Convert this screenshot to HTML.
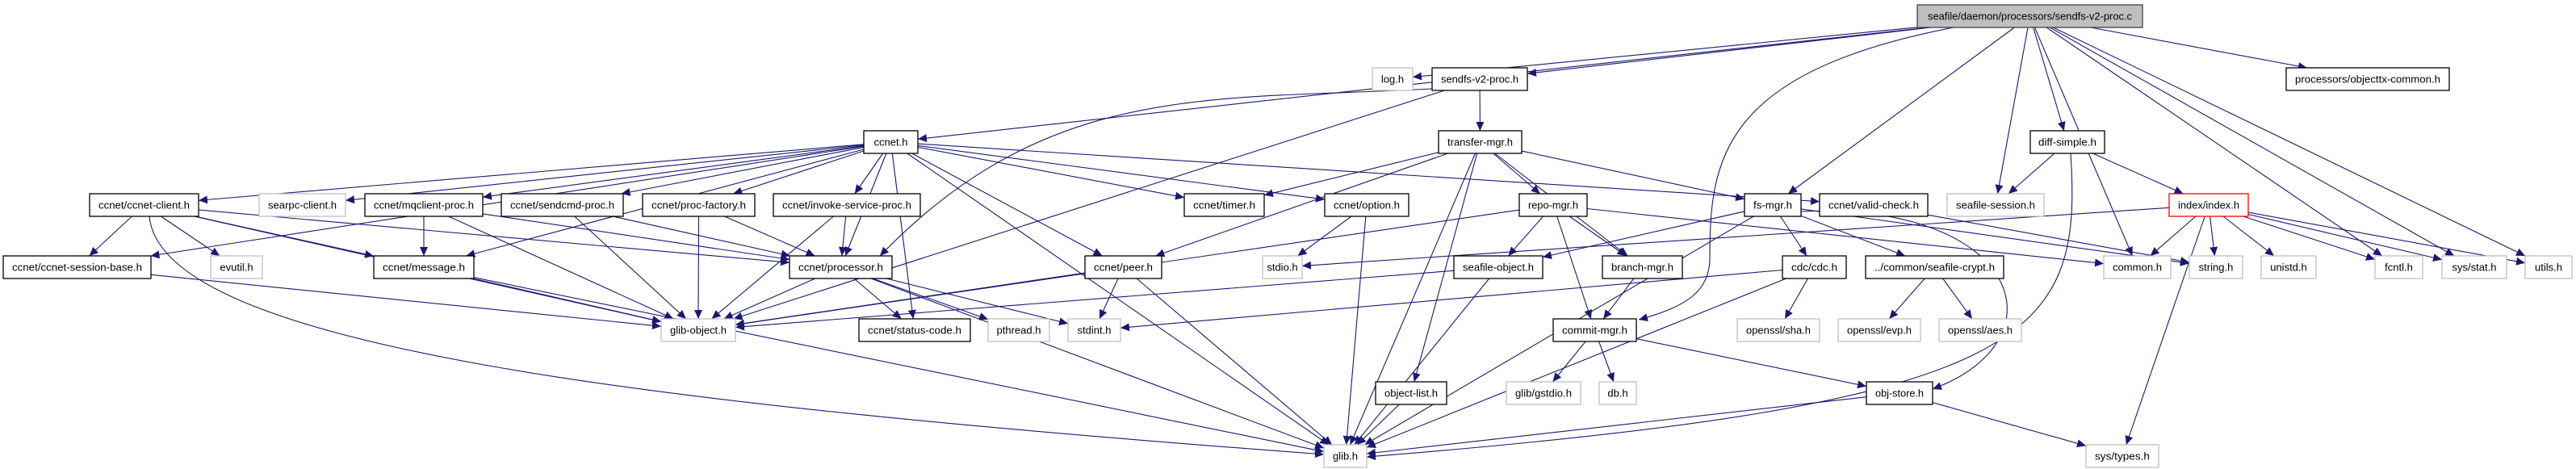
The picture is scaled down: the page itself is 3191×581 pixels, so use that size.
<!DOCTYPE html>
<html><head><meta charset="utf-8">
<style>
html,body{margin:0;padding:0;background:#fff;}
svg{display:block;}
text{font-family:"Liberation Sans",Arial,sans-serif;font-size:13px;fill:#000;}
</style></head>
<body>
<svg id="g" xmlns="http://www.w3.org/2000/svg" width="3191" height="581" viewBox="0 0 3191 581">
<defs>
<marker id="a" markerUnits="userSpaceOnUse" markerWidth="12" markerHeight="10" refX="11" refY="5" orient="auto">
<path d="M0,0 L11,5 L0,10 z" fill="#191970"/>
</marker>
</defs>
<g id="edges" fill="none" stroke="#191970" stroke-width="1.1"></g>
<g id="nodes">
<rect x="2375" y="6" width="279" height="28" fill="#bfbfbf" stroke="#404040" stroke-width="1.3"/><text x="2514.5" y="24.5" text-anchor="middle" textLength="253" lengthAdjust="spacingAndGlyphs">seafile/daemon/processors/sendfs-v2-proc.c</text>
<rect x="1700" y="84" width="50" height="28" fill="#fff" stroke="#bfbfbf" stroke-width="1.3"/><text x="1725" y="102.5" text-anchor="middle">log.h</text>
<rect x="1774" y="84" width="118" height="28" fill="#fff" stroke="#000" stroke-width="1.3"/><text x="1833" y="102.5" text-anchor="middle" textLength="96" lengthAdjust="spacingAndGlyphs">sendfs-v2-proc.h</text>
<rect x="2832" y="84" width="202" height="28" fill="#fff" stroke="#000" stroke-width="1.3"/><text x="2933" y="102.5" text-anchor="middle" textLength="180" lengthAdjust="spacingAndGlyphs">processors/objecttx-common.h</text>
<rect x="1070" y="162" width="67" height="28" fill="#fff" stroke="#000" stroke-width="1.3"/><text x="1103.5" y="180.5" text-anchor="middle">ccnet.h</text>
<rect x="1782" y="162" width="103" height="28" fill="#fff" stroke="#000" stroke-width="1.3"/><text x="1833.5" y="180.5" text-anchor="middle" textLength="81" lengthAdjust="spacingAndGlyphs">transfer-mgr.h</text>
<rect x="2515" y="162" width="92" height="28" fill="#fff" stroke="#000" stroke-width="1.3"/><text x="2561" y="180.5" text-anchor="middle" textLength="72" lengthAdjust="spacingAndGlyphs">diff-simple.h</text>
</g>
</svg>
<script>
var N={
T:[2375,1,279],log:[1700,2,50],sv2:[1774,2,118],objtx:[2832,2,202],
ccnet:[1070,3,67],tm:[1782,3,103],diff:[2515,3,92],
client:[111,4,135],searpc:[321,4,107],mq:[452,4,146],sendcmd:[621,4,151],pf:[796,4,139],inv:[958,4,182],timer:[1467,4,99],option:[1641,4,104],repo:[1882,4,84],fs:[2161,4,70],valid:[2254,4,134],session:[2412,4,120],index:[2687,4,98],
sb:[4,5,183],evutil:[261,5,64],msg:[463,5,124],proc:[978,5,127],peer:[1344,5,95],stdio:[1564,5,49],sobj:[1801,5,110],branch:[1985,5,99],cdc:[2208,5,79],crypt:[2311,5,171],common:[2606,5,83],string:[2712,5,66],unistd:[2801,5,68],fcntl:[2942,5,59],stat:[3025,5,80],utils:[3128,5,58],
gobj:[819,6,92],status:[1064,6,138],pthread:[1224,6,76],stdint:[1323,6,65],commit:[1924,6,103],sha:[2152,6,102],evp:[2277,6,102],aes:[2402,6,102],
olist:[1704,7,88],gstdio:[1866,7,92],db:[1981,7,46],ostore:[2312,7,82],
glib:[1640,8,53],types:[2584,8,90]};
var ROWY=[0,6,84,162,240,317,395,473,551];
function box(k){var n=N[k];return {x:n[0],y:ROWY[n[1]],w:n[2],h:28,cx:n[0]+n[2]/2,cy:ROWY[n[1]]+14};}
var E="T>ccnet T>log T>sv2 T>objtx T>fs T>session T>diff T>common T>fcntl T>stat T>utils "+
"sv2>tm sv2>gobj "+
"ccnet>client ccnet>searpc ccnet>mq ccnet>sendcmd ccnet>pf ccnet>inv ccnet>timer ccnet>proc ccnet>peer ccnet>status ccnet>glib ccnet>option ccnet>sb ccnet>msg ccnet>valid "+
"tm>timer tm>peer tm>repo tm>fs tm>branch tm>glib tm>olist "+
"repo>sobj repo>branch repo>commit repo>gobj repo>common "+
"fs>sobj fs>cdc fs>crypt fs>glib fs>string "+
"diff>session diff>index "+
"index>common index>string index>unistd index>fcntl index>stat index>utils index>types index>stdio "+
"ostore>glib ostore>types commit>gstdio commit>db commit>ostore "+
"cdc>stdint cdc>sha cdc>glib crypt>evp crypt>aes sobj>gobj sobj>glib branch>commit olist>glib "+
"option>stdio option>glib peer>gobj peer>stdint peer>glib "+
"proc>gobj proc>status proc>pthread proc>stdint proc>glib "+
"inv>proc inv>gobj pf>proc pf>gobj sendcmd>proc sendcmd>gobj mq>msg mq>proc mq>gobj "+
"client>sb client>evutil client>msg client>proc client>gobj sb>gobj msg>gobj msg>glib valid>string";
var svgns="http://www.w3.org/2000/svg";
var eg=document.getElementById("edges");
function clip(b,dx,dy){
  var hw=b.w/2,hh=b.h/2;var t=Infinity;
  if(dx!==0)t=Math.min(t,hw/Math.abs(dx));
  if(dy!==0)t=Math.min(t,hh/Math.abs(dy));
  return [b.cx+dx*t,b.cy+dy*t];
}
function add(d){var path=document.createElementNS(svgns,"path");path.setAttribute("d",d);path.setAttribute("marker-end","url(#a)");eg.appendChild(path);}
E.split(" ").forEach(function(e){
  if(!e)return;var p=e.split(">");var s=box(p[0]),t=box(p[1]);
  var dx=t.cx-s.cx,dy=t.cy-s.cy;
  var a=clip(s,dx,dy),b=clip(t,-dx,-dy);
  add("M"+a[0].toFixed(1)+","+a[1].toFixed(1)+" L"+b[0].toFixed(1)+","+b[1].toFixed(1));
});
// curved special edges
add("M185,268 C200,430 800,500 1640,563");
add("M2420,34 C2130,90 2118,200 2118,320 C2118,360 2090,380 2030,396");
add("M1774,110 C1500,125 1300,100 1090,317");
add("M2565,190 C2580,420 2520,500 1693,566");
add("M2231,262 C2500,250 2560,420 2394,482");
</script>
<svg xmlns="http://www.w3.org/2000/svg" width="3191" height="581" viewBox="0 0 3191 581" style="position:absolute;left:0;top:0">
<g>
<rect x="111" y="240" width="135" height="28" fill="#fff" stroke="#000" stroke-width="1.3"/><text x="178.5" y="258.5" text-anchor="middle" textLength="113" lengthAdjust="spacingAndGlyphs">ccnet/ccnet-client.h</text>
<rect x="321" y="240" width="107" height="28" fill="#fff" stroke="#bfbfbf" stroke-width="1.3"/><text x="374.5" y="258.5" text-anchor="middle" textLength="85" lengthAdjust="spacingAndGlyphs">searpc-client.h</text>
<rect x="452" y="240" width="146" height="28" fill="#fff" stroke="#000" stroke-width="1.3"/><text x="525" y="258.5" text-anchor="middle" textLength="124" lengthAdjust="spacingAndGlyphs">ccnet/mqclient-proc.h</text>
<rect x="621" y="240" width="151" height="28" fill="#fff" stroke="#000" stroke-width="1.3"/><text x="696.5" y="258.5" text-anchor="middle" textLength="129" lengthAdjust="spacingAndGlyphs">ccnet/sendcmd-proc.h</text>
<rect x="796" y="240" width="139" height="28" fill="#fff" stroke="#000" stroke-width="1.3"/><text x="865.5" y="258.5" text-anchor="middle" textLength="117" lengthAdjust="spacingAndGlyphs">ccnet/proc-factory.h</text>
<rect x="958" y="240" width="182" height="28" fill="#fff" stroke="#000" stroke-width="1.3"/><text x="1049" y="258.5" text-anchor="middle" textLength="160" lengthAdjust="spacingAndGlyphs">ccnet/invoke-service-proc.h</text>
<rect x="1467" y="240" width="99" height="28" fill="#fff" stroke="#000" stroke-width="1.3"/><text x="1516.5" y="258.5" text-anchor="middle" textLength="77" lengthAdjust="spacingAndGlyphs">ccnet/timer.h</text>
<rect x="1641" y="240" width="104" height="28" fill="#fff" stroke="#000" stroke-width="1.3"/><text x="1693" y="258.5" text-anchor="middle" textLength="82" lengthAdjust="spacingAndGlyphs">ccnet/option.h</text>
<rect x="1882" y="240" width="84" height="28" fill="#fff" stroke="#000" stroke-width="1.3"/><text x="1924" y="258.5" text-anchor="middle" textLength="62" lengthAdjust="spacingAndGlyphs">repo-mgr.h</text>
<rect x="2161" y="240" width="70" height="28" fill="#fff" stroke="#000" stroke-width="1.3"/><text x="2196" y="258.5" text-anchor="middle" textLength="48" lengthAdjust="spacingAndGlyphs">fs-mgr.h</text>
<rect x="2254" y="240" width="134" height="28" fill="#fff" stroke="#000" stroke-width="1.3"/><text x="2321" y="258.5" text-anchor="middle" textLength="112" lengthAdjust="spacingAndGlyphs">ccnet/valid-check.h</text>
<rect x="2412" y="240" width="120" height="28" fill="#fff" stroke="#bfbfbf" stroke-width="1.3"/><text x="2472" y="258.5" text-anchor="middle" textLength="98" lengthAdjust="spacingAndGlyphs">seafile-session.h</text>
<rect x="2687" y="240" width="98" height="28" fill="#fff" stroke="#ff0000" stroke-width="1.3"/><text x="2736" y="258.5" text-anchor="middle" textLength="76" lengthAdjust="spacingAndGlyphs">index/index.h</text>

<rect x="4" y="317" width="183" height="28" fill="#fff" stroke="#000" stroke-width="1.3"/><text x="95.5" y="335.5" text-anchor="middle" textLength="161" lengthAdjust="spacingAndGlyphs">ccnet/ccnet-session-base.h</text>
<rect x="261" y="317" width="64" height="28" fill="#fff" stroke="#bfbfbf" stroke-width="1.3"/><text x="293" y="335.5" text-anchor="middle">evutil.h</text>
<rect x="463" y="317" width="124" height="28" fill="#fff" stroke="#000" stroke-width="1.3"/><text x="525" y="335.5" text-anchor="middle" textLength="102" lengthAdjust="spacingAndGlyphs">ccnet/message.h</text>
<rect x="978" y="317" width="127" height="28" fill="#fff" stroke="#000" stroke-width="1.3"/><text x="1041.5" y="335.5" text-anchor="middle" textLength="105" lengthAdjust="spacingAndGlyphs">ccnet/processor.h</text>
<rect x="1344" y="317" width="95" height="28" fill="#fff" stroke="#000" stroke-width="1.3"/><text x="1391.5" y="335.5" text-anchor="middle" textLength="73" lengthAdjust="spacingAndGlyphs">ccnet/peer.h</text>
<rect x="1564" y="317" width="49" height="28" fill="#fff" stroke="#bfbfbf" stroke-width="1.3"/><text x="1588.5" y="335.5" text-anchor="middle">stdio.h</text>
<rect x="1801" y="317" width="110" height="28" fill="#fff" stroke="#000" stroke-width="1.3"/><text x="1856" y="335.5" text-anchor="middle" textLength="88" lengthAdjust="spacingAndGlyphs">seafile-object.h</text>
<rect x="1985" y="317" width="99" height="28" fill="#fff" stroke="#000" stroke-width="1.3"/><text x="2034.5" y="335.5" text-anchor="middle" textLength="77" lengthAdjust="spacingAndGlyphs">branch-mgr.h</text>
<rect x="2208" y="317" width="79" height="28" fill="#fff" stroke="#000" stroke-width="1.3"/><text x="2247.5" y="335.5" text-anchor="middle" textLength="57" lengthAdjust="spacingAndGlyphs">cdc/cdc.h</text>
<rect x="2311" y="317" width="171" height="28" fill="#fff" stroke="#000" stroke-width="1.3"/><text x="2396.5" y="335.5" text-anchor="middle" textLength="149" lengthAdjust="spacingAndGlyphs">../common/seafile-crypt.h</text>
<rect x="2606" y="317" width="83" height="28" fill="#fff" stroke="#bfbfbf" stroke-width="1.3"/><text x="2647.5" y="335.5" text-anchor="middle" textLength="61" lengthAdjust="spacingAndGlyphs">common.h</text>
<rect x="2712" y="317" width="66" height="28" fill="#fff" stroke="#bfbfbf" stroke-width="1.3"/><text x="2745" y="335.5" text-anchor="middle">string.h</text>
<rect x="2801" y="317" width="68" height="28" fill="#fff" stroke="#bfbfbf" stroke-width="1.3"/><text x="2835" y="335.5" text-anchor="middle">unistd.h</text>
<rect x="2942" y="317" width="59" height="28" fill="#fff" stroke="#bfbfbf" stroke-width="1.3"/><text x="2971.5" y="335.5" text-anchor="middle">fcntl.h</text>
<rect x="3025" y="317" width="80" height="28" fill="#fff" stroke="#bfbfbf" stroke-width="1.3"/><text x="3065" y="335.5" text-anchor="middle">sys/stat.h</text>
<rect x="3128" y="317" width="58" height="28" fill="#fff" stroke="#bfbfbf" stroke-width="1.3"/><text x="3157" y="335.5" text-anchor="middle">utils.h</text>

<rect x="819" y="395" width="92" height="28" fill="#fff" stroke="#bfbfbf" stroke-width="1.3"/><text x="865" y="413.5" text-anchor="middle" textLength="70" lengthAdjust="spacingAndGlyphs">glib-object.h</text>
<rect x="1064" y="395" width="138" height="28" fill="#fff" stroke="#000" stroke-width="1.3"/><text x="1133" y="413.5" text-anchor="middle" textLength="116" lengthAdjust="spacingAndGlyphs">ccnet/status-code.h</text>
<rect x="1224" y="395" width="76" height="28" fill="#fff" stroke="#bfbfbf" stroke-width="1.3"/><text x="1262" y="413.5" text-anchor="middle">pthread.h</text>
<rect x="1323" y="395" width="65" height="28" fill="#fff" stroke="#bfbfbf" stroke-width="1.3"/><text x="1355.5" y="413.5" text-anchor="middle">stdint.h</text>
<rect x="1924" y="395" width="103" height="28" fill="#fff" stroke="#000" stroke-width="1.3"/><text x="1975.5" y="413.5" text-anchor="middle" textLength="81" lengthAdjust="spacingAndGlyphs">commit-mgr.h</text>
<rect x="2152" y="395" width="102" height="28" fill="#fff" stroke="#bfbfbf" stroke-width="1.3"/><text x="2203" y="413.5" text-anchor="middle" textLength="80" lengthAdjust="spacingAndGlyphs">openssl/sha.h</text>
<rect x="2277" y="395" width="102" height="28" fill="#fff" stroke="#bfbfbf" stroke-width="1.3"/><text x="2328" y="413.5" text-anchor="middle" textLength="80" lengthAdjust="spacingAndGlyphs">openssl/evp.h</text>
<rect x="2402" y="395" width="102" height="28" fill="#fff" stroke="#bfbfbf" stroke-width="1.3"/><text x="2453" y="413.5" text-anchor="middle" textLength="80" lengthAdjust="spacingAndGlyphs">openssl/aes.h</text>

<rect x="1704" y="473" width="88" height="28" fill="#fff" stroke="#000" stroke-width="1.3"/><text x="1748" y="491.5" text-anchor="middle" textLength="66" lengthAdjust="spacingAndGlyphs">object-list.h</text>
<rect x="1866" y="473" width="92" height="28" fill="#fff" stroke="#bfbfbf" stroke-width="1.3"/><text x="1912" y="491.5" text-anchor="middle" textLength="70" lengthAdjust="spacingAndGlyphs">glib/gstdio.h</text>
<rect x="1981" y="473" width="46" height="28" fill="#fff" stroke="#bfbfbf" stroke-width="1.3"/><text x="2004" y="491.5" text-anchor="middle">db.h</text>
<rect x="2312" y="473" width="82" height="28" fill="#fff" stroke="#000" stroke-width="1.3"/><text x="2353" y="491.5" text-anchor="middle" textLength="60" lengthAdjust="spacingAndGlyphs">obj-store.h</text>

<rect x="1640" y="551" width="53" height="28" fill="#fff" stroke="#bfbfbf" stroke-width="1.3"/><text x="1666.5" y="569.5" text-anchor="middle">glib.h</text>
<rect x="2584" y="551" width="90" height="28" fill="#fff" stroke="#bfbfbf" stroke-width="1.3"/><text x="2629" y="569.5" text-anchor="middle" textLength="68" lengthAdjust="spacingAndGlyphs">sys/types.h</text>
</g>
</svg>
</body></html>
